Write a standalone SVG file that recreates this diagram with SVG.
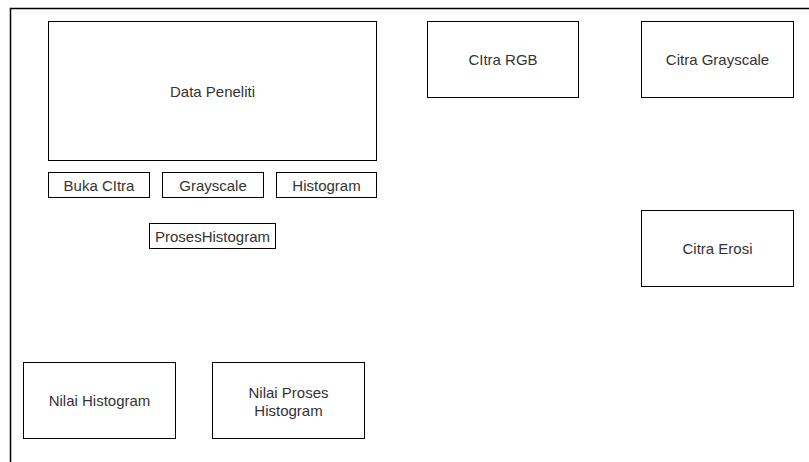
<svg xmlns="http://www.w3.org/2000/svg" width="809" height="462" viewBox="0 0 809 462">
  <style>
    .box { fill: #ffffff; stroke: #000000; stroke-width: 1; }
    .lbl { font-family: "Liberation Sans", Arial, Helvetica, sans-serif; font-size: 15px; fill: #333333; text-anchor: middle; dominant-baseline: central; }
    .frame { fill: none; stroke: #000000; stroke-width: 1.5; }
  </style>
  <rect width="809" height="462" fill="#ffffff"/>
  <!-- page frame -->
  <path class="frame" d="M10.5,462 V8.5 H809"/>

  <g id="data-peneliti">
    <rect class="box" x="48.5" y="21.5" width="328" height="139"/>
    <text class="lbl" x="212.5" y="91">Data Peneliti</text>
  </g>
  <g id="buka-citra">
    <rect class="box" x="48.5" y="172.5" width="101" height="25"/>
    <text class="lbl" x="99" y="185">Buka CItra</text>
  </g>
  <g id="grayscale">
    <rect class="box" x="162.5" y="172.5" width="101" height="25"/>
    <text class="lbl" x="213" y="185">Grayscale</text>
  </g>
  <g id="histogram">
    <rect class="box" x="276.5" y="172.5" width="100" height="25"/>
    <text class="lbl" x="326.5" y="185">Histogram</text>
  </g>
  <g id="proses-histogram">
    <rect class="box" x="149.5" y="223.5" width="126" height="25"/>
    <text class="lbl" x="212.5" y="236">ProsesHistogram</text>
  </g>
  <g id="citra-rgb">
    <rect class="box" x="427.5" y="21.5" width="151" height="76"/>
    <text class="lbl" x="503" y="59.5">CItra RGB</text>
  </g>
  <g id="citra-grayscale">
    <rect class="box" x="641.5" y="21.5" width="152" height="76"/>
    <text class="lbl" x="717.5" y="59.5">Citra Grayscale</text>
  </g>
  <g id="citra-erosi">
    <rect class="box" x="641.5" y="210.5" width="152" height="76"/>
    <text class="lbl" x="717.5" y="248.5">Citra Erosi</text>
  </g>
  <g id="nilai-histogram">
    <rect class="box" x="23.5" y="362.5" width="152" height="76"/>
    <text class="lbl" x="99.5" y="400.5">Nilai Histogram</text>
  </g>
  <g id="nilai-proses-histogram">
    <rect class="box" x="212.5" y="362.5" width="152" height="76"/>
    <text class="lbl" x="288.5" y="392">Nilai Proses</text>
    <text class="lbl" x="288.5" y="410">Histogram</text>
  </g>
  <g id="connectors"/>
</svg>
